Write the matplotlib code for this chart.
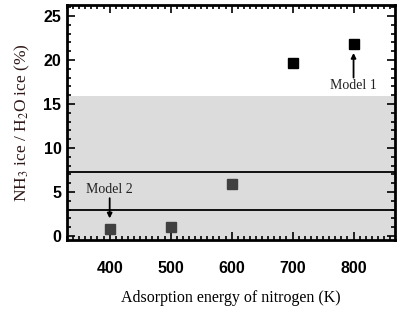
import matplotlib
matplotlib.use("Agg")
import matplotlib.pyplot as plt
from matplotlib.ticker import MultipleLocator

matplotlib.rcParams["mathtext.fontset"] = "stix"

energies = [400, 500, 600, 700, 800]
ratios = [0.8, 1.0, 5.9, 19.7, 21.8]
point_colors = ["#404040", "#404040", "#404040", "#000000", "#000000"]
shade_range = [0, 15.9]
hlines = [7.3, 2.95]
xticks = [400, 500, 600, 700, 800]
yticks = [0, 5, 10, 15, 20, 25]

fig = plt.figure(figsize=(4.09, 3.14), dpi=100)
ax = fig.add_axes([67/409, 1-240/314, (395-67)/409, (240-5)/314])

ax.set_xlim(330, 868)
ax.set_ylim(-0.45, 26.25)

ax.axhspan(shade_range[0] - 5, shade_range[1], color="#dcdcdc", lw=0, zorder=0)
for h in hlines:
    ax.axhline(h, color="black", lw=1.3, zorder=1)

for e, r, c in zip(energies, ratios, point_colors):
    ax.plot(e, r, marker="s", ms=6.5, color=c, mec=c, ls="none", zorder=3)

arrow = dict(arrowstyle="-|>", color="black", lw=1.3, mutation_scale=7, shrinkA=0, shrinkB=0)
# Model 2 label and arrow
ax.text(energies[0], 5.3, "Model 2", ha="center", va="center", fontsize=10,
        family="Liberation Serif", color="#222222")
ax.annotate("", xy=(energies[0], 2.0), xytext=(energies[0], 4.3), arrowprops=arrow)
# Model 1 label and arrow
ax.text(energies[4], 17.1, "Model 1", ha="center", va="center", fontsize=10,
        family="Liberation Serif", color="#222222")
ax.annotate("", xy=(energies[4], 20.8), xytext=(energies[4], 18.0), arrowprops=arrow)

ax.set_xticks(xticks)
ax.set_yticks(yticks)
ax.xaxis.set_minor_locator(MultipleLocator(10))
ax.yaxis.set_minor_locator(MultipleLocator(1))
ax.tick_params(which="both", direction="in", top=True, right=True, width=1.2)
ax.tick_params(which="major", length=6)
ax.tick_params(which="minor", length=3)
ax.tick_params(axis="x", which="major", pad=15)
ax.tick_params(axis="y", which="major", pad=4)
for lab in ax.get_xticklabels() + ax.get_yticklabels():
    lab.set_fontfamily("Liberation Sans")
    lab.set_fontweight("bold")
    lab.set_fontsize(11.5)

for s in ax.spines.values():
    s.set_linewidth(2)

ax.set_xlabel("Adsorption energy of nitrogen (K)", family="Liberation Serif", fontsize=11.5, labelpad=10)
ax.set_ylabel("NH$_3$ ice / H$_2$O ice (%)", family="Liberation Serif", fontsize=12.5,
              color="#301818", labelpad=8)

fig.savefig("out.png", dpi=100)
